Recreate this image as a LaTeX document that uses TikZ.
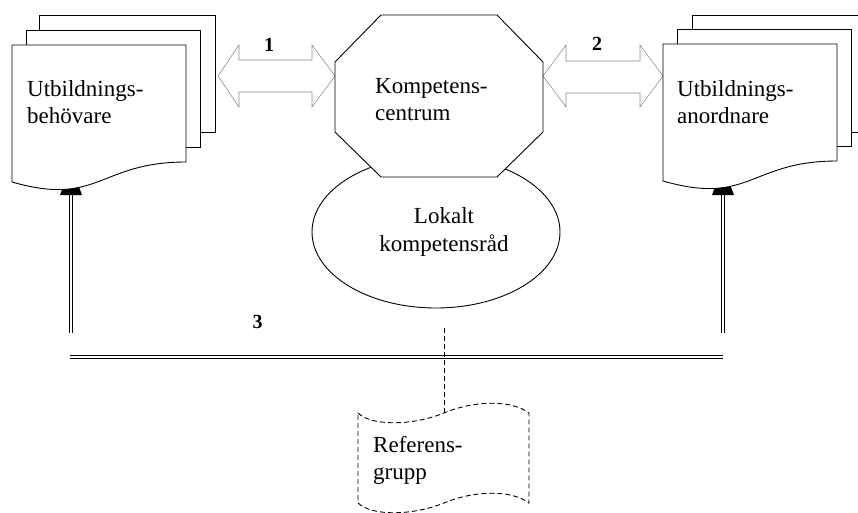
\documentclass[tikz,border=0pt]{standalone}
\usepackage{fontspec}
\setmainfont{Liberation Serif}
\usetikzlibrary{shapes.geometric}
\newcommand\twolinesL[2]{\begin{tabular}[t]{@{}l@{}}#1\\#2\end{tabular}}
\newcommand\twolinesC[2]{\begin{tabular}[t]{@{}c@{}}#1\\#2\end{tabular}}
\begin{document}
\begin{tikzpicture}[x=1pt,y=-1pt,
  sheet/.style={draw=black, fill=white, line width=0.9pt, line join=miter},
  blockarrow/.style={draw=black!45, fill=white, line width=0.6pt, line join=miter},
  dbl/.style={draw=black, line width=0.8pt, double=white, double distance=2.2pt},
  wedge/.style={fill=black, draw=none},
  lbl/.style={font=\fontsize{23}{27}\selectfont, inner sep=0pt, anchor=base west},
  clbl/.style={font=\fontsize{23}{28}\selectfont, inner sep=0pt, anchor=base},
  num/.style={font=\fontsize{20}{24}\selectfont\bfseries, inner sep=0pt},
  dashedline/.style={draw=black, line width=0.9pt, dash pattern=on 5pt off 3pt}
]
\useasboundingbox (0,0) rectangle (858,513);

% block arrows
\draw[blockarrow] (218,76) -- (239,45) -- (239,60) -- (312,60) -- (312,45) -- (335,76)
  -- (312,107) -- (312,92) -- (239,92) -- (239,107) -- cycle;
\draw[blockarrow] (543,76) -- (566,45) -- (566,61) -- (640,61) -- (640,45) -- (663,76)
  -- (640,107) -- (640,93) -- (566,93) -- (566,107) -- cycle;
\node[num] (n1) at (269,45) {1};
\node[num] (n2) at (597,44) {2};

% ellipse
\node[ellipse, draw, line width=0.9pt, fill=white, minimum width=248pt, minimum height=152pt, inner sep=0pt] (lkr) at (436,232) {};
\node[clbl] (lkrtext) at (444,223) {\twolinesC{Lokalt}{kompetensråd}};

% octagon
\draw[sheet] (381,15) -- (497,15) -- (543,62) -- (543,132) -- (497,177) -- (381,177) -- (335,132) -- (335,62) -- cycle;
\node[lbl] (kctext) at (375,94) {\twolinesL{Kompetens-}{centrum}};

% vertical double arrows
\coordinate (lbot) at (71,333);
\coordinate (ltop) at (71,194);
\coordinate (rbot) at (723,333);
\coordinate (rtop) at (723,194);
\draw[dbl] (lbot) -- (ltop);
\draw[dbl] (rbot) -- (rtop);
\fill[wedge] (60,195) -- (82,195) -- (79,187) -- (63,187) -- cycle;
\fill[wedge] (712,195) -- (734,195) -- (731,187) -- (715,187) -- cycle;

% left multidocument
\draw[sheet] (39,15) rectangle (215,132);
\draw[sheet] (26,30) rectangle (200,147);
\draw[sheet] (12,45) -- (186,45) -- (186,162) .. controls (99,162) and (99,207) .. (12,182) -- cycle;
\node[lbl] (ubtext) at (27,97) {\twolinesL{Utbildnings-}{behövare}};

% right multidocument
\draw[sheet] (692,15) rectangle (870,132);
\draw[sheet] (677,29) rectangle (851,146);
\draw[sheet] (663,44) -- (837,44) -- (837,161) .. controls (750,161) and (750,206) .. (663,181) -- cycle;
\node[lbl] (uatext) at (677,97) {\twolinesL{Utbildnings-}{anordnare}};

% horizontal double line
\coordinate (hl) at (70,357);
\coordinate (hr) at (723,357);
\draw[dbl] (hl) -- (hr);
\node[num] (n3) at (257.5,322) {3};

% referensgrupp
\draw[dashedline, fill=white] (358,413) .. controls (371,426) and (412,426) .. (444,413)
  .. controls (475,400) and (512,400) .. (529,413) -- (529,503)
  .. controls (512,490) and (475,490) .. (444,503)
  .. controls (412,516) and (371,516) .. (358,503) -- cycle;
\coordinate (reftop) at (444,413);
\coordinate (dstart) at (444,328);
\draw[dashedline] (dstart) -- (reftop);
\node[lbl] (reftext) at (373,452) {\twolinesL{Referens-}{grupp}};
\end{tikzpicture}
\end{document}
